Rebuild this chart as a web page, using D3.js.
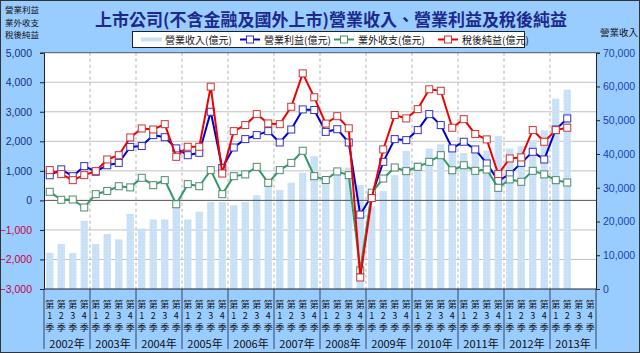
<!DOCTYPE html>
<html lang="zh-Hant">
<head>
    <meta charset="UTF-8">
    <title>營業收入、營業利益及稅後純益</title>
    <script src="https://cdn.jsdelivr.net/npm/d3@7"></script>
    <style>
        body { margin: 0; background: #fff; }
        text { font-family: "Noto Sans CJK TC", "Noto Sans", sans-serif; }
    </style>
</head>
<body>
<script type="text/javascript">
    // 資料 (億元)
    var years = ['2002', '2003', '2004', '2005', '2006', '2007', '2008', '2009', '2010', '2011', '2012', '2013'];
    var quarterNames = ['1', '2', '3', '4'];
    var revenue = [10700, 13300, 10600, 20200, 13300, 16300, 14700, 22200, 17900, 20600, 20600, 24200,
        20600, 22900, 25800, 25800, 24800, 25800, 27800, 31300, 29300, 31500, 34400, 39400,
        32500, 34700, 36000, 30800, 24500, 29000, 33700, 40900, 37700, 41600, 42900, 41500,
        40300, 42000, 41000, 45300, 41600, 42300, 44100, 47000, 56400, 59100, null, null];
    var opProfit = [850, 1050, 820, 1160, 970, 1190, 1270, 1810, 1840, 2210, 2140, 1760,
        1530, 1610, 3000, 1100, 1790, 2075, 2210, 2345, 1960, 2400, 3080, 3060,
        2320, 2410, 1960, -480, 160, 1305, 2075, 2040, 2380, 2920, 2550, 1760,
        1985, 1725, 1250, 660, 890, 1270, 1645, 1385, 2400, 2775, null, null];
    var nonOp = [290, 20, 30, -240, 210, 320, 480, 440, 765, 515, 685, -130,
        550, 480, 1025, 210, 820, 880, 1135, 595, 1025, 1270, 1680, 820,
        690, 980, 855, -2370, 260, 740, 1115, 990, 1135, 1305, 1530, 1020,
        1190, 1000, 1045, 425, 710, 630, 1000, 880, 685, 605, null, null];
    var netIncome = [1025, 890, 685, 855, 990, 1385, 1530, 2130, 2435, 2400, 2580, 1475,
        1815, 1815, 3850, 910, 2345, 2550, 2920, 2605, 2580, 3170, 4300, 3490,
        2600, 2850, 2440, -2610, 80, 1725, 2890, 2775, 3090, 3760, 3710, 2460,
        2750, 2245, 2065, 890, 1420, 1455, 2380, 1985, 2380, 2460, null, null];
    var leftTicks = [-3000, -2000, -1000, 0, 1000, 2000, 3000, 4000, 5000];
    var rightTicks = [0, 10000, 20000, 30000, 40000, 50000, 60000, 70000];

    var categories = [];
    years.forEach(function (y) {
        quarterNames.forEach(function (q) {
            categories.push(y + 'Q' + q);
        });
    });

    var width = 640;
    var height = 353;
    var pLeft = 44, pRight = 596, pTop = 52.7, pBottom = 289;

    var svg = d3.select('body').append('svg')
            .attr('width', width)
            .attr('height', height);

    svg.append('rect')
            .attr('x', 0.5).attr('y', 0.5)
            .attr('width', width - 1).attr('height', height - 1)
            .attr('fill', '#99ccff')
            .attr('stroke', '#333')
            .attr('stroke-width', 1);

    var x = d3.scaleBand()
            .domain(categories)
            .range([pLeft, pRight])
            .paddingInner(0.36)
            .paddingOuter(0.18);
    var step = x.step();
    var yL = d3.scaleLinear().domain([-3000, 5000]).range([pBottom, pTop]);
    var yR = d3.scaleLinear().domain([0, 70000]).range([pBottom, pTop]);

    // 繪圖區
    svg.append('rect')
            .attr('x', pLeft).attr('y', pTop)
            .attr('width', pRight - pLeft).attr('height', pBottom - pTop)
            .attr('fill', '#fff');

    // 水平格線
    svg.append('g').selectAll('line')
            .data(leftTicks.filter(function (d) { return d !== 0 && d !== 5000 && d !== -3000; }))
            .enter()
            .append('line')
            .attr('x1', pLeft).attr('x2', pRight)
            .attr('y1', function (d) { return yL(d); })
            .attr('y2', function (d) { return yL(d); })
            .attr('stroke', '#c0c0c0')
            .attr('stroke-width', 1);

    // 年度分隔虛線
    svg.append('g').selectAll('line')
            .data(years.slice(1))
            .enter()
            .append('line')
            .attr('x1', function (d) { return x(d + 'Q1') - (step - x.bandwidth()) / 2; })
            .attr('x2', function (d) { return x(d + 'Q1') - (step - x.bandwidth()) / 2; })
            .attr('y1', pTop).attr('y2', pBottom)
            .attr('stroke', '#b0b0b0')
            .attr('stroke-dasharray', '3,3');

    // 營業收入 bars
    var defs = svg.append('defs');
    var pat = defs.append('pattern')
            .attr('id', 'barFill')
            .attr('patternUnits', 'userSpaceOnUse')
            .attr('width', 3).attr('height', 3);
    pat.append('rect').attr('width', 3).attr('height', 3).attr('fill', '#c7e0f6');
    pat.append('rect').attr('width', 1).attr('height', 1).attr('fill', '#d8eafa');

    svg.append('g').selectAll('rect')
            .data(revenue.map(function (v, i) { return {k: categories[i], v: v}; })
                    .filter(function (d) { return d.v !== null; }))
            .enter()
            .append('rect')
            .attr('x', function (d) { return x(d.k); })
            .attr('y', function (d) { return yR(d.v); })
            .attr('width', x.bandwidth())
            .attr('height', function (d) { return yR(0) - yR(d.v); })
            .attr('fill', 'url(#barFill)');

    // 零線
    svg.append('line')
            .attr('x1', pLeft).attr('x2', pRight)
            .attr('y1', yL(0)).attr('y2', yL(0))
            .attr('stroke', '#555')
            .attr('stroke-width', 1);

    // 折線
    var series = [
        {name: '營業利益(億元)', values: opProfit, color: '#0000cc', mark: '#3333cc'},
        {name: '業外收支(億元)', values: nonOp, color: '#339966', mark: '#4c8c6c'},
        {name: '稅後純益(億元)', values: netIncome, color: '#ee0000', mark: '#cc3333'}
    ];
    var line = d3.line()
            .defined(function (d) { return d.v !== null; })
            .x(function (d) { return x(d.k) + x.bandwidth() / 2; })
            .y(function (d) { return yL(d.v); });

    series.forEach(function (s) {
        var pts = s.values.map(function (v, i) { return {k: categories[i], v: v}; });
        svg.append('path')
                .datum(pts)
                .attr('d', line)
                .attr('fill', 'none')
                .attr('stroke', s.color)
                .attr('stroke-width', 2);
        svg.append('g').selectAll('rect')
                .data(pts.filter(function (d) { return d.v !== null; }))
                .enter()
                .append('rect')
                .attr('x', function (d) { return x(d.k) + x.bandwidth() / 2 - 3.5; })
                .attr('y', function (d) { return yL(d.v) - 3.5; })
                .attr('width', 7).attr('height', 7)
                .attr('fill', '#fff')
                .attr('stroke', s.mark)
                .attr('stroke-width', 1);
    });

    // 座標軸
    var axisL = d3.axisLeft(yL).tickValues(leftTicks).tickSize(4)
            .tickFormat(function (d) { return d3.format(',')(d); });
    var gL = svg.append('g')
            .attr('transform', 'translate(' + pLeft + ',0)')
            .call(axisL);
    gL.select('.domain').attr('stroke', '#222');
    gL.selectAll('.tick line').attr('stroke', '#222');
    gL.selectAll('.tick text')
            .attr('x', -12)
            .style('font-size', '10.5px')
            .style('font-family', '"Liberation Sans", Arial, sans-serif')
            .attr('fill', function (d) { return d < 0 ? '#cc0044' : '#1a2f80'; });

    var axisR = d3.axisRight(yR).tickValues(rightTicks).tickSize(4)
            .tickFormat(function (d) { return d3.format(',')(d); });
    var gR = svg.append('g')
            .attr('transform', 'translate(' + pRight + ',0)')
            .call(axisR);
    gR.select('.domain').attr('stroke', '#222');
    gR.selectAll('.tick line').attr('stroke', '#222');
    gR.selectAll('.tick text')
            .attr('x', 7)
            .style('font-size', '10.5px')
            .style('font-family', '"Liberation Sans", Arial, sans-serif')
            .attr('fill', '#1a3fb0');

    // 上下框線
    svg.append('line')
            .attr('x1', pLeft).attr('x2', pRight)
            .attr('y1', pTop).attr('y2', pTop)
            .attr('stroke', '#555');
    svg.append('line')
            .attr('x1', pLeft).attr('x2', pRight)
            .attr('y1', pBottom).attr('y2', pBottom)
            .attr('stroke', '#222');

    // X 軸標籤
    var xl = svg.append('g');
    categories.forEach(function (c, i) {
        var cx = x(c) + x.bandwidth() / 2;
        var q = quarterNames[i % 4];
        xl.append('text').attr('x', cx).attr('y', 307.5).attr('text-anchor', 'middle')
                .style('font-size', '9px').attr('fill', '#111').text('第');
        xl.append('text').attr('x', cx).attr('y', 319).attr('text-anchor', 'middle')
                .style('font-size', '9px').attr('fill', '#111').text(q);
        xl.append('text').attr('x', cx).attr('y', 330.5).attr('text-anchor', 'middle')
                .style('font-size', '9px').attr('fill', '#111').text('季');
    });
    years.forEach(function (y, i) {
        var x0 = x(y + 'Q1') - (step - x.bandwidth()) / 2;
        xl.append('line')
                .attr('x1', x0).attr('x2', x0)
                .attr('y1', pBottom).attr('y2', 349)
                .attr('stroke', '#334466');
        xl.append('text')
                .attr('x', x0 + step * 2).attr('y', 348)
                .attr('text-anchor', 'middle')
                .style('font-size', '11px').attr('fill', '#111')
                .text(y + '年');
    });
    xl.append('line')
            .attr('x1', pRight).attr('x2', pRight)
            .attr('y1', pBottom).attr('y2', 349)
            .attr('stroke', '#334466');

    // 標題
    svg.append('text')
            .attr('x', 331).attr('y', 26)
            .attr('text-anchor', 'middle')
            .style('font-size', '17px')
            .style('font-weight', 'bold')
            .attr('fill', '#1c2a8c')
            .text('上市公司(不含金融及國外上市)營業收入、營業利益及稅後純益');

    // 軸標題
    ['營業利益', '業外收支', '稅後純益'].forEach(function (t, i) {
        svg.append('text')
                .attr('x', 5).attr('y', 13 + i * 12.5)
                .style('font-size', '8.5px').attr('fill', '#111')
                .text(t);
    });
    svg.append('text')
            .attr('x', 600).attr('y', 36)
            .style('font-size', '9.5px').attr('fill', '#111')
            .text('營業收入');

    // 圖例
    var lg = svg.append('g');
    lg.append('rect')
            .attr('x', 132.5).attr('y', 31.5)
            .attr('width', 392).attr('height', 16)
            .attr('fill', '#fff').attr('stroke', '#222');
    lg.append('rect')
            .attr('x', 141).attr('y', 37.5).attr('width', 21).attr('height', 4)
            .attr('fill', '#c7e0f6');
    lg.append('text').attr('x', 165).attr('y', 43.5)
            .style('font-size', '10px').attr('fill', '#111').text('營業收入(億元)');
    var legendX = [240, 334, 438];
    series.forEach(function (s, i) {
        var lx = legendX[i];
        lg.append('line')
                .attr('x1', lx).attr('x2', lx + 20)
                .attr('y1', 39.5).attr('y2', 39.5)
                .attr('stroke', s.color).attr('stroke-width', 2);
        lg.append('rect')
                .attr('x', lx + 6.5).attr('y', 36).attr('width', 7).attr('height', 7)
                .attr('fill', '#fff').attr('stroke', s.mark);
        lg.append('text').attr('x', lx + 24).attr('y', 43.5)
                .style('font-size', '10px').attr('fill', '#111').text(s.name);
    });
</script>
</body>
</html>
